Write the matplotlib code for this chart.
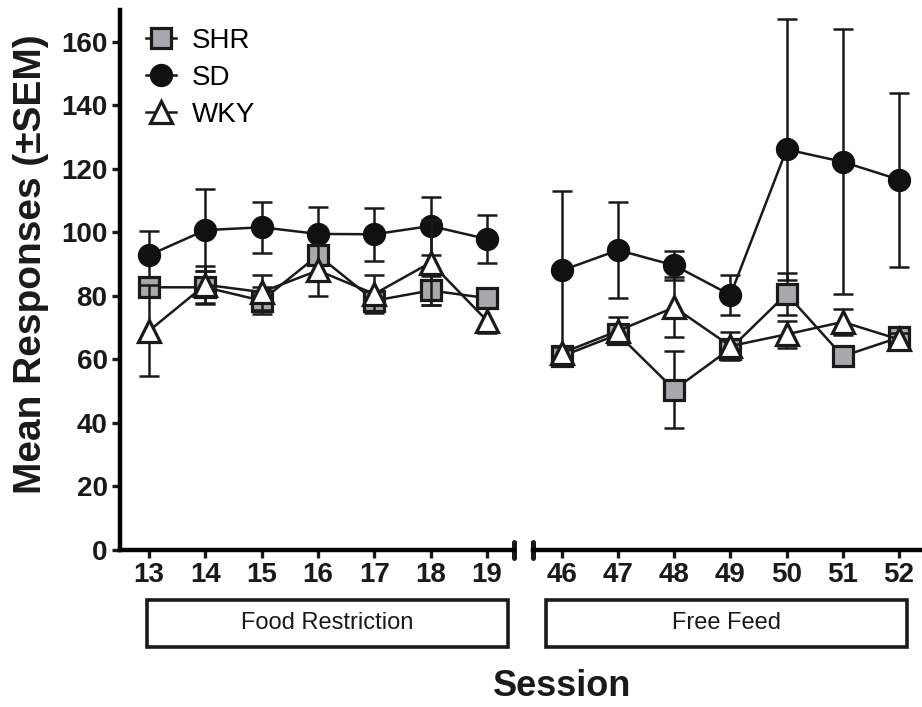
import matplotlib
matplotlib.use('Agg')
import matplotlib.pyplot as plt
from matplotlib.patches import Rectangle

# sessions
sess_fr = [13, 14, 15, 16, 17, 18, 19]
sess_ff = [46, 47, 48, 49, 50, 51, 52]

# means and SEM, food restriction
shr_fr = [82.7, 82.7, 78.5, 92.8, 78.5, 81.7, 79.3]
shr_fr_sem = [2, 5, 4.2, 3, 1.5, 4.7, 3]
sd_fr = [92.8, 100.7, 101.6, 99.5, 99.4, 102.0, 97.9]
sd_fr_sem = [7.5, 13, 8, 8.5, 8.3, 9, 7.7]
wky_fr = [69.0, 83.5, 81.2, 88.0, 80.6, 90.5, 72.2]
wky_fr_sem = [14.3, 6, 5.5, 8, 6, 13.5, 4]

# means and SEM, free feed
shr_ff = [61.0, 67.9, 50.5, 63.4, 80.6, 61.0, 66.9]
shr_ff_sem = [1.5, 2, 12, 2, 6.5, 1.5, 2]
sd_ff = [88.0, 94.4, 89.6, 80.3, 126.1, 122.2, 116.6]
sd_ff_sem = [25, 15, 4.6, 6.3, 41, 41.7, 27.4]
wky_ff = [62.0, 69.0, 76.4, 64.2, 67.9, 71.8, 66.3]
wky_ff_sem = [2, 4.2, 9.5, 4.5, 4.3, 4, 2]

yticks = [0, 20, 40, 60, 80, 100, 120, 140, 160]

plt.rcParams['font.family'] = ['Liberation Sans', 'DejaVu Sans']

W, H = 922, 707
fig = plt.figure(figsize=(W / 100, H / 100), dpi=100)
axL = fig.add_axes([120 / W, 1 - 550 / H, (514 - 120) / W, 540 / H])
axR = fig.add_axes([533 / W, 1 - 550 / H, (922 - 533) / W, 540 / H])

ink = '#1a1a1a'
gray = '#a9a9ad'
styles = {
    'SD': dict(marker='o', mfc='#111111', mec='#111111', ms=14.5),
    'SHR': dict(marker='s', mfc=gray, mec=ink, ms=14.5),
    'WKY': dict(marker='^', mfc='white', mec=ink, ms=15.5),
}
zorders = {'SD': 3, 'SHR': 4, 'WKY': 5}

series = [
    ('SD', sd_fr, sd_fr_sem, sd_ff, sd_ff_sem),
    ('SHR', shr_fr, shr_fr_sem, shr_ff, shr_ff_sem),
    ('WKY', wky_fr, wky_fr_sem, wky_ff, wky_ff_sem),
]

handles = {}
for name, fr, fr_sem, ff, ff_sem in series:
    st = styles[name]
    z = zorders[name]
    for ax, x, y, e in [(axL, sess_fr, fr, fr_sem), (axR, sess_ff, ff, ff_sem)]:
        ax.errorbar(x, y, yerr=e, fmt='none', ecolor=ink, elinewidth=1.8,
                    capsize=7, capthick=1.8, zorder=z - 0.5, clip_on=False)
        ln, = ax.plot(x, y, color=ink, lw=1.8, mew=2.3, zorder=z,
                      clip_on=False, **st)
    handles[name] = ln

for ax in (axL, axR):
    ax.set_ylim(0, 170)
    for s in ('top', 'right'):
        ax.spines[s].set_visible(False)
    ax.spines['bottom'].set_linewidth(3.2)
    ax.spines['left'].set_linewidth(3.2)
    ax.tick_params(axis='both', direction='out', length=6, width=2.4,
                   pad=3, color=ink, labelsize=20, labelcolor=ink)

axL.set_xlim(12.485, 19.48)
axR.set_xlim(45.485, 52.41)
axL.set_xticks(sess_fr)
axR.set_xticks(sess_ff)
axL.set_yticks(yticks)
axR.spines['left'].set_visible(False)
axR.set_yticks([])

for ax in (axL, axR):
    for lab in ax.get_xticklabels() + ax.get_yticklabels():
        lab.set_fontweight('bold')

# axis break caps
axL.plot([1, 1], [-0.014, 0.014], transform=axL.transAxes, color=ink,
         lw=3.6, solid_capstyle='round', clip_on=False)
axR.plot([0, 0], [-0.014, 0.014], transform=axR.transAxes, color=ink,
         lw=3.6, solid_capstyle='round', clip_on=False)

axL.set_ylabel('Mean Responses (\u00b1SEM)', fontsize=28, fontweight='bold',
               color=ink)
axL.yaxis.set_label_coords(-0.179, 0.53)
fig.text(562 / W, 1 - 687 / H, 'Session', fontsize=26, fontweight='bold',
         ha='center', va='center', color=ink)

# phase boxes
for x0, x1, label in [(147, 508, 'Food Restriction'), (546, 907, 'Free Feed')]:
    fig.patches.append(Rectangle((x0 / W, 1 - 647 / H), (x1 - x0) / W, 47 / H,
                                 transform=fig.transFigure, fill=False,
                                 lw=2.6, ec=ink))
    fig.text((x0 + x1) / 2 / W, 1 - 623 / H, label, fontsize=17,
             ha='center', va='center', color=ink)

leg = axL.legend([handles['SHR'], handles['SD'], handles['WKY']],
                 ['SHR', 'SD', 'WKY'], loc='upper left',
                 bbox_to_anchor=(132 / W, 1 - 14 / H),
                 bbox_transform=fig.transFigure, frameon=False,
                 fontsize=20, handlelength=1.1, handletextpad=0.55,
                 labelspacing=0.4, borderpad=0)

fig.savefig('out.png', dpi=100)
